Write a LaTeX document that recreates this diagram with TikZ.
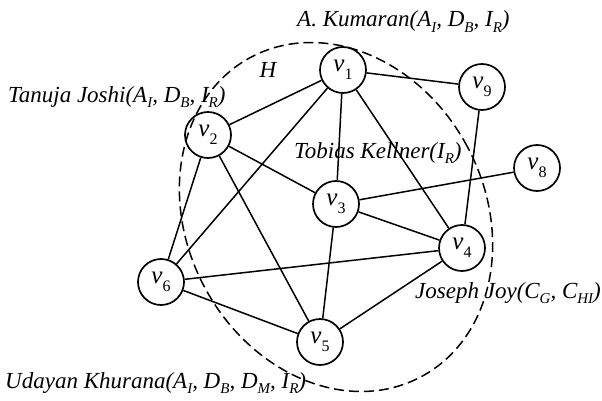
\documentclass[tikz,border=0pt]{standalone}
\usepackage{fontspec}
\setmainfont{Liberation Serif}
\newcommand\lsub[1]{\raisebox{-0.26em}{\fontsize{15}{15}\selectfont #1}}
\newcommand\vlab[1]{\textit{v}\raisebox{-0.3em}{\fontsize{16}{16}\selectfont #1}}
\begin{document}
\begin{tikzpicture}[x=1pt,y=1pt,
  vtx/.style={circle, draw, line width=1.7pt, minimum size=46pt, inner sep=0pt, font=\fontsize{25}{25}\selectfont},
  edge/.style={line width=1.5pt},
  hull/.style={line width=1.5pt, dash pattern=on 10pt off 5pt},
  lbl/.style={font=\fontsize{23}{25}\selectfont\itshape, inner sep=0pt, anchor=base west}]
\useasboundingbox (0,0) rectangle (602,400);
% hull
\coordinate (hc) at (336,183);
\draw[hull, rotate around={28:(hc)}] (hc) ellipse [x radius=149pt, y radius=181pt];
% vertices
\node[vtx] (v1) at (343,330) {\vlab{1}};
\node[vtx] (v9) at (482,313) {\vlab{9}};
\node[vtx] (v8) at (537,232) {\vlab{8}};
\node[vtx] (v2) at (208,265) {\vlab{2}};
\node[vtx] (v3) at (336,196) {\vlab{3}};
\node[vtx] (v4) at (462,152) {\vlab{4}};
\node[vtx] (v5) at (320,58) {\vlab{5}};
\node[vtx] (v6) at (161,118) {\vlab{6}};
% edges
\draw[edge] (v1) -- (v2);
\draw[edge] (v1) -- (v3);
\draw[edge] (v1) -- (v4);
\draw[edge] (v1) -- (v6);
\draw[edge] (v1) -- (v9);
\draw[edge] (v2) -- (v3);
\draw[edge] (v2) -- (v5);
\draw[edge] (v2) -- (v6);
\draw[edge] (v3) -- (v4);
\draw[edge] (v3) -- (v5);
\draw[edge] (v3) -- (v8);
\draw[edge] (v4) -- (v6);
\draw[edge] (v4) -- (v5);
\draw[edge] (v4) -- (v9);
\draw[edge] (v6) -- (v5);
% labels
\node[lbl] (lk) at (297,373) {A. Kumaran(A\lsub{I}, D\lsub{B}, I\lsub{R})};
\node[lbl] (lt) at (8,298) {Tanuja Joshi(A\lsub{I}, D\lsub{B}, I\lsub{R})};
\node[lbl, anchor=center] (lh) at (268,330) {H};
\node[lbl] (lo) at (294,242) {Tobias Kellner(I\lsub{R})};
\node[lbl] (lj) at (415,102) {Joseph Joy(C\lsub{G}, C\lsub{HI})};
\node[lbl] (lu) at (5,12) {Udayan Khurana(A\lsub{I}, D\lsub{B}, D\lsub{M}, I\lsub{R})};
\end{tikzpicture}
\end{document}
